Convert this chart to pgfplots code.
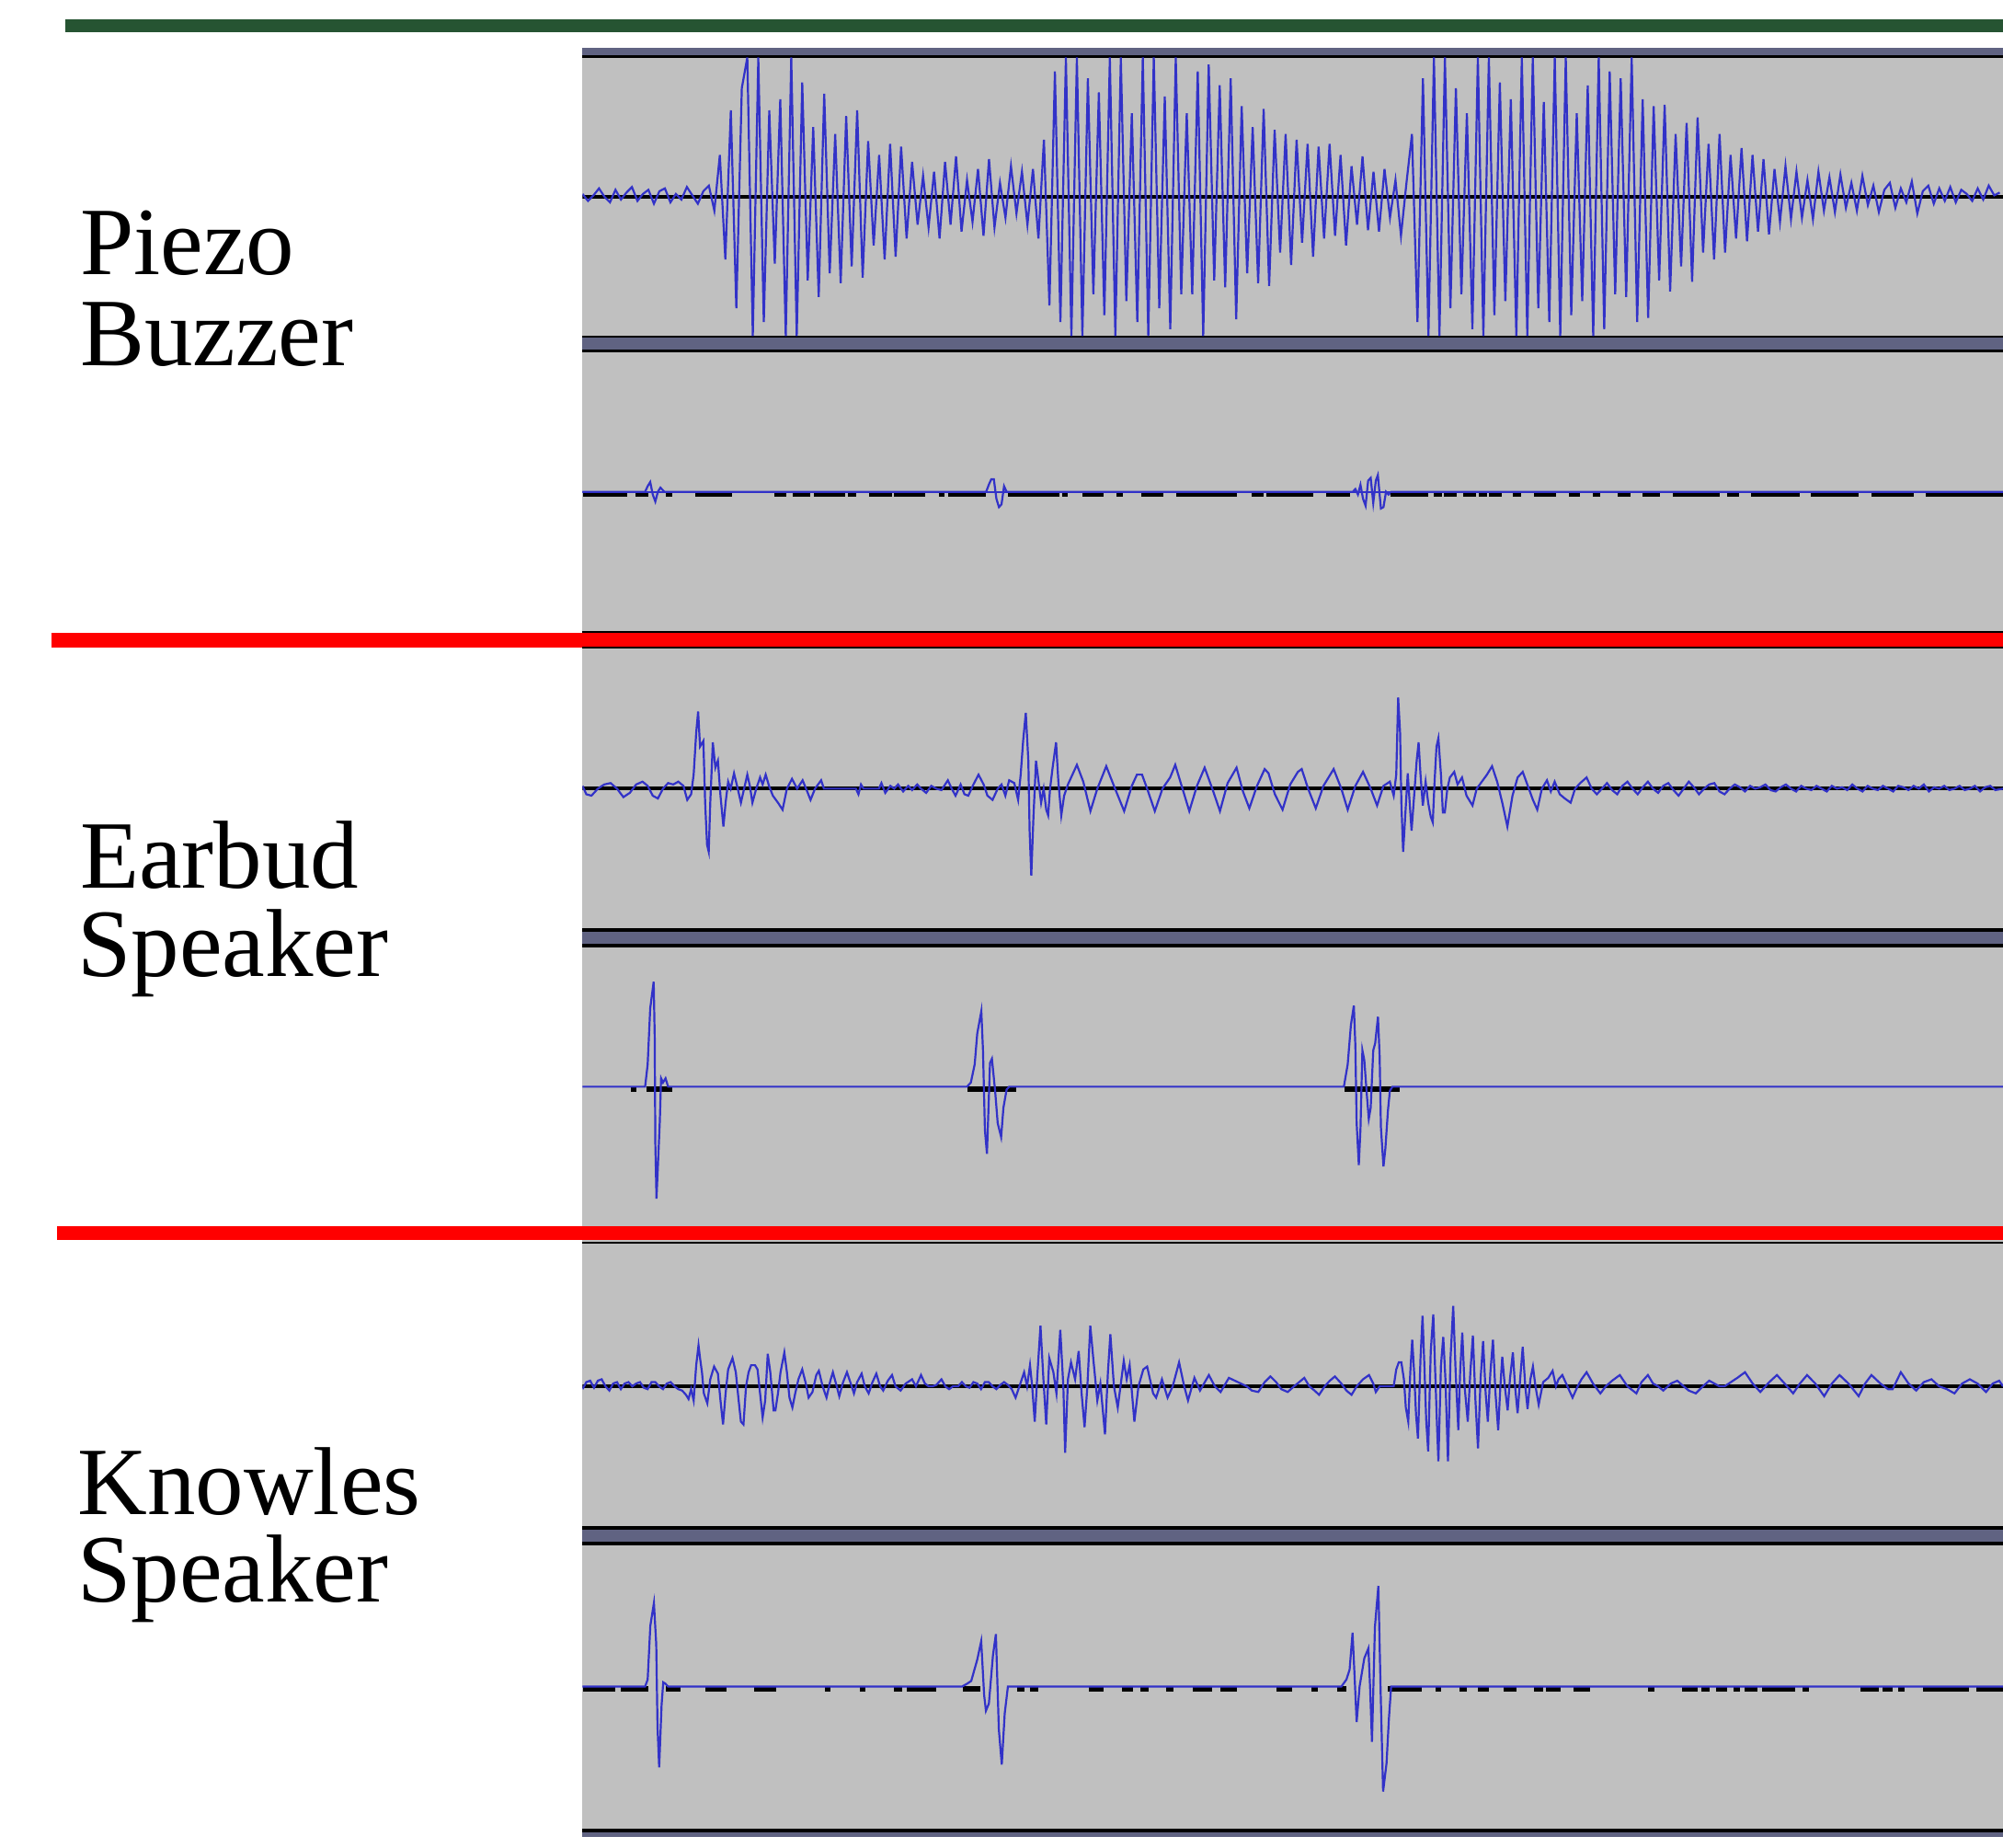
\documentclass[border=0pt]{standalone}
\usepackage{fontspec}
\setmainfont{Liberation Serif}
\usepackage{pgfplots}
\pgfplotsset{compat=1.18}
\usepackage{pgfplotstable}

\definecolor{trackgray}{RGB}{192,192,192}
\definecolor{slate}{RGB}{96,99,130}
\definecolor{wave}{RGB}{50,50,200}
\definecolor{topgreen}{RGB}{38,84,50}

\pgfplotsset{
  track/.style={width=11.12cm, scale only axis, xmin=456, xmax=1568,
    ymin=-1, ymax=1, hide axis, clip=true, anchor=north west},
  wv/.style={wave, line width=0.45pt, mark=none},
  zero/.style={black, line width=0.028cm, mark=none},
  dsh/.style={black, line width=0.045cm, mark=none, unbounded coords=jump},
}

% piezo buzzer, top track: one sample every 4.3 px
\pgfplotstableread[row sep=\\]{
y\\
0.02\\-0.03\\0.01\\0.06\\0.00\\-0.04\\0.05\\-0.02\\0.03\\0.07\\
-0.03\\0.02\\0.05\\-0.05\\0.04\\0.06\\-0.04\\0.02\\-0.02\\0.07\\
0.01\\-0.05\\0.04\\0.08\\-0.10\\0.30\\-0.45\\0.62\\-0.80\\0.78\\
1.00\\-1.00\\1.00\\-0.90\\0.62\\-0.48\\0.70\\-1.00\\1.00\\-1.00\\
0.82\\-0.60\\0.50\\-0.72\\0.74\\-0.55\\0.45\\-0.62\\0.58\\-0.50\\
0.62\\-0.58\\0.40\\-0.35\\0.30\\-0.45\\0.38\\-0.43\\0.36\\-0.30\\
0.25\\-0.20\\0.15\\-0.22\\0.18\\-0.30\\0.25\\-0.20\\0.29\\-0.25\\
0.12\\-0.18\\0.20\\-0.28\\0.27\\-0.22\\0.10\\-0.15\\0.22\\-0.12\\
0.18\\-0.20\\0.20\\-0.30\\0.41\\-0.78\\0.90\\-0.90\\1.00\\-1.00\\
1.00\\-1.00\\0.85\\-0.70\\0.75\\-0.85\\1.00\\-1.00\\1.00\\-0.75\\
0.60\\-0.90\\1.00\\-1.00\\1.00\\-0.80\\0.72\\-0.95\\1.00\\-0.70\\
0.60\\-0.70\\0.90\\-1.00\\0.95\\-0.60\\0.80\\-0.65\\0.85\\-0.88\\
0.65\\-0.55\\0.50\\-0.62\\0.63\\-0.64\\0.48\\-0.40\\0.45\\-0.49\\
0.41\\-0.33\\0.38\\-0.43\\0.36\\-0.30\\0.38\\-0.28\\0.30\\-0.35\\
0.22\\-0.20\\0.29\\-0.24\\0.18\\-0.25\\0.20\\-0.15\\0.12\\-0.28\\
0.10\\0.45\\-0.90\\0.85\\-1.00\\1.00\\-1.00\\1.00\\-0.80\\0.78\\
-0.70\\0.60\\-0.95\\1.00\\-1.00\\1.00\\-0.85\\0.82\\-0.75\\0.70\\
-1.00\\1.00\\-1.00\\1.00\\-0.80\\0.68\\-0.90\\1.00\\-1.00\\1.00\\
-0.85\\0.60\\-0.75\\0.80\\-1.00\\1.00\\-0.95\\0.90\\-0.70\\0.85\\
-0.72\\1.00\\-0.90\\0.70\\-0.87\\0.65\\-0.60\\0.66\\-0.68\\0.45\\
-0.50\\0.53\\-0.61\\0.57\\-0.40\\0.38\\-0.45\\0.45\\-0.40\\0.30\\
-0.30\\0.35\\-0.32\\0.30\\-0.25\\0.27\\-0.27\\0.20\\-0.18\\0.22\\
-0.16\\0.18\\-0.15\\0.12\\-0.16\\0.18\\-0.10\\0.14\\-0.11\\0.16\\
-0.08\\0.10\\-0.10\\0.15\\-0.06\\0.08\\-0.11\\0.05\\0.10\\-0.08\\
0.06\\-0.04\\0.11\\-0.12\\0.04\\0.08\\-0.05\\0.06\\-0.03\\0.07\\
-0.04\\0.05\\0.02\\-0.03\\0.06\\-0.02\\0.08\\0.01\\0.03\\
}\piezotop

\begin{document}
\begin{tikzpicture}
\begin{axis}[width=15.68cm, height=14.456cm, scale only axis,
  xmin=0, xmax=1568, ymin=0, ymax=1445.6, y dir=reverse,
  hide axis, clip=false]
\coordinate (BB1) at (rel axis cs:0,0);
\coordinate (BB2) at (rel axis cs:1,1);
\addplot[topgreen, line width=0.105cm] coordinates {(51.4,20) (1568,20)};
\addplot[fill=trackgray, draw=none] coordinates {(456,37.2) (1568,37.2) (1568,1438) (456,1438)};
\addplot[slate, line width=0.063cm] coordinates {(456,40.3) (1568,40.3)};
\addplot[black, line width=0.02cm] coordinates {(456,44.2) (1568,44.2)};
% between the two piezo tracks
\addplot[black, line width=0.018cm] coordinates {(456,263.6) (1568,263.6)};
\addplot[slate, line width=0.091cm] coordinates {(456,269) (1568,269)};
\addplot[black, line width=0.02cm] coordinates {(456,274.8) (1568,274.8)};
% first red rule
\addplot[black, line width=0.015cm] coordinates {(456,494.6) (1568,494.6)};
\addplot[red, line width=0.112cm] coordinates {(40,500.9) (1568,500.9)};
\addplot[black, line width=0.012cm] coordinates {(456,507) (1568,507)};
% between the earbud tracks
\addplot[black, line width=0.023cm] coordinates {(456,727.8) (1568,727.8)};
\addplot[slate, line width=0.099cm] coordinates {(456,734) (1568,734)};
\addplot[black, line width=0.023cm] coordinates {(456,740) (1568,740)};
% second red rule
\addplot[red, line width=0.113cm] coordinates {(44.8,965.1) (1568,965.1)};
\addplot[black, line width=0.016cm] coordinates {(456,972.8) (1568,972.8)};
% between the knowles tracks
\addplot[black, line width=0.023cm] coordinates {(456,1195.8) (1568,1195.8)};
\addplot[slate, line width=0.099cm] coordinates {(456,1202) (1568,1202)};
\addplot[black, line width=0.023cm] coordinates {(456,1208) (1568,1208)};
% bottom edge
\addplot[black, line width=0.034cm] coordinates {(456,1432.7) (1568,1432.7)};
\addplot[slate, line width=0.036cm] coordinates {(456,1436.2) (1568,1436.2)};

\coordinate (T1) at (axis cs:456,45);
\coordinate (T2) at (axis cs:456,275.8);
\coordinate (T3) at (axis cs:456,507.5);
\coordinate (T4) at (axis cs:456,741);
\coordinate (T5) at (axis cs:456,974.5);
\coordinate (T6) at (axis cs:456,1209);

\tikzset{lab/.style={anchor=base west, inner sep=0pt, font=\fontsize{21.5}{22}\selectfont}}
\node[lab] at (axis cs:62,215) {Piezo};
\node[lab] at (axis cs:62,286) {Buzzer};
\node[lab] at (axis cs:62,695) {Earbud};
\node[lab] at (axis cs:60,764) {Speaker};
\node[lab] at (axis cs:60,1185) {Knowles};
\node[lab] at (axis cs:60,1254) {Speaker};
\end{axis}

% Piezo, top
\begin{axis}[track, at={(T1)}, height=2.18cm]
\addplot[zero] coordinates {(456,0) (1568,0)};
\addplot[wv] table[x expr=456+4.3*\coordindex, y=y] {\piezotop};
\end{axis}

% Piezo, bottom
\begin{axis}[track, at={(T2)}, height=2.182cm]
\addplot[wv] coordinates {(456,0) (505,0) (507,0.04) (509,0.07) (511,-0.02) (513,-0.07) (515,0.0) (517,0.03) (520,0.0)
 (772,0) (774,0.05) (776,0.09) (778,0.09) (780,-0.05) (782,-0.11) (784,-0.09) (786,0.04) (788,0.0)
 (1059,0) (1061,0.02) (1063,-0.02) (1065,0.05) (1067,-0.05) (1069,-0.1) (1071,0.08) (1073,0.1) (1075,-0.08)
 (1077,0.08) (1078.6,0.12) (1081,-0.12) (1083,-0.11) (1085,0.0) (1087,-0.02) (1089,0.0) (1568,0)};
\addplot[dsh] coordinates {
 (456.3,-0.015) (490.8,-0.015) (490.8,nan) (497.7,-0.015) (507.8,-0.015) (507.8,nan)
 (521.5,-0.015) (526.1,-0.015) (526.1,nan) (544.5,-0.015) (573,-0.015) (573,nan)
 (606.5,-0.015) (615.7,-0.015) (615.7,nan) (620.3,-0.015) (634,-0.015) (634,nan)
 (637.3,-0.015) (661.6,-0.015) (661.6,nan) (663.9,-0.015) (669.9,-0.015) (669.9,nan)
 (680,-0.015) (698.3,-0.015) (698.3,nan) (699.7,-0.015) (724.5,-0.015) (724.5,nan)
 (735,-0.015) (739.7,-0.015) (739.7,nan) (742,-0.015) (771.8,-0.015) (771.8,nan)
 (789.3,-0.015) (829.2,-0.015) (829.2,nan) (831.5,-0.015) (836.1,-0.015) (836.1,nan)
 (847.6,-0.015) (863.6,-0.015) (863.6,nan) (874.2,-0.015) (878.8,-0.015) (878.8,nan)
 (893.5,-0.015) (911,-0.015) (911,nan) (921,-0.015) (968.4,-0.015) (968.4,nan)
 (979.8,-0.015) (989,-0.015) (989,nan) (991.3,-0.015) (1028,-0.015) (1028,nan)
 (1038,-0.015) (1056.5,-0.015) (1056.5,nan) (1088.6,-0.015) (1118.3,-0.015) (1118.3,nan)
 (1122.3,-0.015) (1129,-0.015) (1129,nan) (1130.4,-0.015) (1140.5,-0.015) (1140.5,nan)
 (1145.7,-0.015) (1155.8,-0.015) (1155.8,nan) (1157.8,-0.015) (1164.1,-0.015) (1164.1,nan)
 (1165.6,-0.015) (1175.7,-0.015) (1175.7,nan) (1184.6,-0.015) (1191,-0.015) (1191,nan)
 (1200.5,-0.015) (1217.8,-0.015) (1217.8,nan) (1227.9,-0.015) (1237,-0.015) (1237,nan)
 (1247.2,-0.015) (1253,-0.015) (1253,nan) (1266.5,-0.015) (1276.6,-0.015) (1276.6,nan)
 (1286,-0.015) (1299.6,-0.015) (1299.6,nan) (1309.2,-0.015) (1346,-0.015) (1346,nan)
 (1351.8,-0.015) (1361.6,-0.015) (1361.6,nan) (1371,-0.015) (1408.6,-0.015) (1408.6,nan)
 (1417.8,-0.015) (1454.8,-0.015) (1454.8,nan) (1464.8,-0.015) (1498,-0.015) (1498,nan)
 (1507.2,-0.015) (1568,-0.015)};
\addplot[wv] coordinates {(456,0) (1568,0)};
\end{axis}

% Earbud, top
\begin{axis}[track, at={(T3)}, height=2.195cm]
\addplot[zero] coordinates {(456,0) (1568,0)};
\addplot[wv] coordinates {
 (456,0.02) (459,-0.04) (463,-0.05) (468,0.0) (473,0.03) (478,0.04) (483,0.0) (488,-0.06) (493,-0.03) (498,0.03)
 (503,0.05) (507,0.02) (511,-0.05) (515,-0.07) (519,0.0) (523,0.04) (527,0.03) (531,0.05) (535,0.02) (538,-0.08) (541,-0.04)
 (543,0.1) (545,0.4) (546.5,0.55) (548,0.3) (550.6,0.34) (552,-0.1) (553.5,-0.4) (554.8,-0.45) (556,-0.1) (558,0.33)
 (560,0.15) (562,0.2) (564,-0.05) (566.3,-0.27) (568,-0.1) (570,0.05) (572,0.0) (574.6,0.11) (577,0.02) (580,-0.1)
 (582.5,0.0) (585,0.1) (587,0.02) (589,-0.1) (592,0.0) (595,0.08) (597,0.03) (599.4,0.1) (602,0.02) (605,-0.05)
 (609,-0.1) (612.6,-0.15) (616,0.0) (620,0.07) (624,0.0) (628.3,0.06) (631,0.0) (634.5,-0.08) (638,0.0) (642.8,0.06)
 (645,0.0) (655,0.0) (670,0.0) (672,-0.04) (674,0.03) (676,0.0) (688,0.0) (690,0.04) (693,-0.03) (697,0.02) (700,0.0)
 (703,0.03) (707,-0.02) (711,0.02) (714,-0.01) (718,0.03) (721,0.0) (725,-0.03) (729,0.02) (733,0.0) (737,-0.01)
 (742,0.06) (745,0.0) (748,-0.05) (752,0.03) (755,-0.04) (758,-0.05) (762,0.03) (766,0.1) (770,0.03) (773,-0.05)
 (777,-0.08) (781,0.0) (784,0.03) (787,-0.05) (790,0.06) (794,0.04) (797,-0.08)
 (799,0.1) (801,0.35) (803,0.54) (805,0.2) (806,-0.3) (807.3,-0.62) (809,-0.2) (811,0.2) (813,0.05) (815,-0.1)
 (817,0.0) (819,-0.15) (820.5,-0.19) (822,0.0) (824,0.15) (826.7,0.33) (828.5,0.05) (830.8,-0.19) (833,-0.05)
 (836,0.03) (839,0.09) (843,0.17) (848,0.05) (853.6,-0.16) (859,0.0) (866,0.16) (872,0.02) (880,-0.16) (886,0.02)
 (890,0.1) (894,0.1) (898,0.0) (904,-0.16) (910,0.0) (916,0.08) (920,0.17) (925,0.02) (931,-0.16) (937,0.02)
 (943,0.15) (949,0.0) (955,-0.16) (961,0.04) (968,0.15) (973,-0.02) (978,-0.14) (984,0.02) (990,0.14) (993,0.11)
 (998,-0.04) (1004,-0.15) (1010,0.03) (1016,0.12) (1019,0.14) (1024,0.0) (1030,-0.14) (1036,0.02) (1044,0.14)
 (1050,0.0) (1055,-0.15) (1061,0.02) (1067,0.12) (1073,0.0) (1078,-0.12) (1083,0.02) (1088,0.05) (1091,-0.05)
 (1093,0.1) (1094.5,0.65) (1096,0.4) (1097,-0.1) (1098.4,-0.45) (1100,-0.2) (1102,0.11) (1103.5,-0.1) (1105,-0.3)
 (1107,-0.05) (1109,0.2) (1110.5,0.33) (1112,0.1) (1113.8,-0.12) (1116,0.05) (1118,-0.1) (1120,-0.2) (1121.6,-0.24)
 (1123,0.05) (1124.5,0.3) (1126,0.36) (1128,0.1) (1129.5,-0.17) (1131,-0.17) (1133,0.0) (1135,0.08) (1138.4,0.12)
 (1141,0.03) (1144.5,0.08) (1148,-0.05) (1152.7,-0.12) (1156,0.0) (1160,0.05) (1164,0.1) (1168,0.16) (1172,0.05)
 (1176,-0.1) (1180,-0.27) (1184,-0.05) (1188,0.08) (1192,0.12) (1196,0.02) (1200,-0.08) (1203.4,-0.15) (1207,0.0)
 (1211,0.06) (1214,-0.02) (1217,0.05) (1221,-0.04) (1225,-0.07) (1229.5,-0.1) (1233,0.0) (1237,0.04) (1242,0.08)
 (1246,0.0) (1250,-0.04) (1254,0.0) (1258,0.04) (1262,-0.01) (1266,-0.04) (1270,0.02) (1274,0.05) (1278,0.0)
 (1282,-0.04) (1286,0.01) (1290,0.05) (1294,0.0) (1298,-0.03) (1302,0.02) (1306,0.04) (1310,-0.01) (1314,-0.05)
 (1318,0.0) (1322,0.05) (1326,0.01) (1330,-0.04) (1334,0.0) (1338,0.03) (1342,0.04) (1346,-0.02) (1350,-0.04)
 (1354,0.0) (1358,0.03) (1362,0.01) (1366,-0.02) (1370,0.02) (1374,0.0) (1378,0.01) (1382,0.03) (1386,-0.01)
 (1390,-0.02) (1394,0.01) (1398,0.03) (1402,0.0) (1406,-0.02) (1410,0.02) (1414,0.0) (1418,-0.01) (1422,0.02)
 (1426,0.0) (1430,-0.02) (1434,0.02) (1438,0.0) (1442,0.01) (1446,-0.01) (1450,0.03) (1454,0.0) (1458,-0.02)
 (1462,0.02) (1466,0.0) (1470,-0.01) (1474,0.02) (1478,0.0) (1482,-0.02) (1486,0.02) (1490,0.01) (1494,-0.01)
 (1498,0.02) (1502,0.0) (1506,0.03) (1510,-0.02) (1514,0.01) (1518,0.0) (1522,0.02) (1526,-0.01) (1530,0.0)
 (1534,0.02) (1538,-0.01) (1542,0.0) (1546,0.02) (1550,-0.02) (1554,0.01) (1558,0.02) (1562,-0.01) (1568,0.0)};
\end{axis}

% Earbud, bottom
\begin{axis}[track, at={(T4)}, height=2.19cm]
\addplot[dsh] coordinates {
 (494,-0.015) (498,-0.015) (498,nan) (506.4,-0.015) (526.2,-0.015) (526.2,nan)
 (757.7,-0.015) (795.7,-0.015) (795.7,nan) (1052.7,-0.015) (1095.5,-0.015)};
\addplot[wv] coordinates {(456,0) (505,0) (507,0.16) (509,0.56) (511.7,0.75) (512.5,0.36) (513,-0.41) (513.9,-0.8)
 (515,-0.57) (516.5,-0.25) (517.5,0.06) (519,0.03) (521,0.06) (523,0.0)
 (757,0) (760,0.03) (763,0.16) (765,0.38) (768.2,0.54) (769.5,0.26) (771,-0.31) (772.6,-0.48) (774,-0.1) (775,0.17)
 (776.5,0.2) (779,-0.03) (781,-0.26) (783.7,-0.36) (785.5,-0.15) (788,-0.02) (790,0.0)
 (1052,0) (1055,0.16) (1057.5,0.44) (1059.8,0.58) (1061,0.29) (1062,-0.26) (1063.7,-0.56) (1065,-0.3) (1066.5,0.26)
 (1068,0.19) (1070,-0.06) (1071.5,-0.23) (1073,-0.15) (1075,0.26) (1076.5,0.31) (1078.7,0.5) (1080,0.22) (1081,-0.29)
 (1083,-0.57) (1084.5,-0.44) (1086.5,-0.17) (1088,-0.03) (1090,0.0) (1568,0)};
\end{axis}

% Knowles, top
\begin{axis}[track, at={(T5)}, height=2.21cm]
\addplot[zero] coordinates {(456,0) (1568,0)};
\addplot[wv] coordinates {
 (456,-0.02) (459,0.03) (462,0.04) (465,-0.01) (468,0.04) (471,0.05) (474,0.0) (477,-0.03) (480,0.02) (483,0.03)
 (486,-0.02) (489,0.02) (492,0.03) (495,0.0) (498,0.02) (501,0.03) (504,-0.01) (507,-0.02) (510,0.03) (513,0.03)
 (516,0.0) (519,-0.02) (522,0.02) (525,0.03) (528,0.0) (531,-0.02) (534,-0.03) (537,-0.06) (539,-0.09) (541,-0.02)
 (543,-0.1) (545,0.15) (546.8,0.29) (548,0.2) (549.5,0.1) (551,-0.05) (553.7,-0.12) (556,0.05) (559,0.14) (562,0.09)
 (564,-0.1) (566,-0.27) (568,-0.05) (570,0.12) (573.4,0.2) (576,0.1) (578,-0.08) (580,-0.25) (582,-0.27) (584,0.0)
 (586,0.1) (588,0.15) (591,0.15) (593,0.12) (595,-0.05) (597,-0.22) (599,-0.1) (601,0.23) (603,0.1) (605.6,-0.17)
 (607,-0.17) (609,-0.05) (611,0.1) (614,0.24) (616,0.1) (618,-0.08) (620.3,-0.15) (622.5,-0.05) (625,0.05) (628,0.12)
 (630.8,0.02) (633,-0.08) (636,-0.04) (639,0.08) (641,0.11) (644,0.0) (647,-0.08) (650,0.04) (652,0.1) (655,0.0)
 (657,-0.07) (660,0.03) (663,0.1) (666,0.02) (668.5,-0.05) (671,0.03) (674.5,0.09) (677,0.0) (680,-0.05) (683,0.03)
 (686,0.09) (689,0.0) (691.4,-0.03) (695,0.04) (698.3,0.08) (701,0.0) (705,-0.03) (709,0.02) (714,0.05) (717,0.0)
 (721,0.08) (724,0.02) (727,0.0) (730,0.0) (733,0.01) (737,0.05) (740,0.0) (743,-0.02) (746,0.0) (750,0.0) (753,0.03)
 (756,0.0) (759,-0.01) (762,0.03) (765,0.02) (768,-0.02) (771,0.03) (774,0.03) (777,0.0) (780,-0.02) (783,0.01)
 (786,0.03) (789,0.01) (792,-0.02) (795,-0.08) (798,0.0)
 (801.7,0.1) (804,0.0) (806.3,0.15) (808,0.0) (810,-0.25) (812.2,0.1) (814.5,0.43) (816.8,0.05) (819,-0.27)
 (821.4,0.2) (824.6,0.1) (827,-0.05) (830,0.4) (832.4,0.0) (833.8,-0.47) (836,0.05) (838.4,0.17) (841.6,0.05)
 (844.4,0.25) (846.7,-0.05) (849,-0.29) (851.2,0.0) (853.5,0.43) (855.8,0.2) (859,-0.1) (861.4,0.02) (865,-0.34)
 (867.3,0.1) (869.2,0.37) (872,0.0) (875,-0.15) (879.7,0.18) (882,0.05) (884.3,0.15) (888,-0.25) (891.2,0.0)
 (895,0.12) (898,0.14) (902.7,-0.05) (905,-0.08) (909.6,0.05) (914,-0.08) (918,0.0) (923,0.17) (927,0.0) (930,-0.1)
 (935,0.06) (939.4,-0.03) (946.3,0.08) (951,0.0) (955.5,-0.04) (962,0.06) (969,0.03) (976,0.0)
 (980,-0.03) (985,-0.04) (990,0.03) (994.5,0.07) (999,0.03) (1003,-0.02) (1008,-0.04) (1013,0.0) (1017,0.03)
 (1021,0.06) (1025,0.0) (1029,-0.03) (1032.6,-0.06) (1037,0.0) (1041,0.04) (1045,0.07) (1050,0.02) (1054,-0.03)
 (1058,-0.06) (1062,0.0) (1067,0.05) (1071.7,0.08) (1075,0.02) (1077,-0.04) (1080,0.0) (1090,0.0)
 (1091,0.0) (1093,0.12) (1095,0.17) (1097,0.17) (1099,0.05) (1100.5,-0.15) (1102.4,-0.25) (1104,0.1) (1105.5,0.33)
 (1107,0.1) (1108.5,-0.2) (1110,-0.37) (1112,0.2) (1113.6,0.5) (1115,0.15) (1116.5,-0.25) (1118,-0.46) (1120,0.25)
 (1122,0.51) (1123.5,0.1) (1125,-0.3) (1126,-0.53) (1128,0.15) (1129.8,0.35) (1131.5,0.05) (1133.5,-0.53)
 (1135.5,0.2) (1137.6,0.57) (1139.5,0.1) (1141.6,-0.31) (1143,0.1) (1144.7,0.38) (1146.5,0.0) (1149,-0.25)
 (1151,0.1) (1153,0.36) (1155,-0.1) (1157,-0.44) (1159,0.05) (1161,0.32) (1163,-0.05) (1164.7,-0.25) (1166.7,0.1)
 (1168.7,0.33) (1170.7,-0.05) (1172.8,-0.31) (1174.5,0.0) (1176,0.21) (1178,0.0) (1180.2,-0.17) (1182,0.05)
 (1184.3,0.24) (1186,0.0) (1188,-0.19) (1190,0.05) (1192,0.28) (1194,0.0) (1195.8,-0.16) (1198,0.05) (1200,0.14)
 (1202,0.0) (1204.5,-0.13) (1208,0.03) (1212,0.06) (1215.4,0.11) (1218,0.0) (1220,0.05) (1223,0.08) (1227,0.0)
 (1231,-0.08) (1235,0.0) (1238,0.05) (1242,0.1) (1247,0.02) (1252.8,-0.05) (1257,0.0) (1262,0.04) (1268,0.08)
 (1274,0.0) (1281,-0.05) (1285,0.03) (1290,0.08) (1294,0.02) (1298,0.0) (1302,-0.03) (1308,0.02) (1313,0.04)
 (1318,0.0) (1322,-0.03) (1327.5,-0.05) (1333,0.0) (1338,0.04) (1342,0.02) (1346,0.0) (1350,0.0) (1355,0.03)
 (1360,0.06) (1366,0.1) (1372,0.02) (1378,-0.04) (1385,0.03) (1391,0.08) (1397,0.02) (1403.7,-0.05) (1409,0.02)
 (1414.6,0.08) (1421,0.02) (1428,-0.07) (1434,0.02) (1440,0.08) (1447,0.02) (1455,-0.07) (1460,0.02) (1465,0.08)
 (1472,0.02) (1478,-0.02) (1481.6,-0.02) (1488,0.1) (1494,0.02) (1500,-0.03) (1506,0.03) (1512,0.05) (1518,0.0)
 (1524,-0.02) (1530,-0.05) (1536,0.02) (1542,0.05) (1548,0.02) (1554.7,-0.04) (1560,0.02) (1565,0.04) (1568,0.0)};
\end{axis}

% Knowles, bottom
\begin{axis}[track, at={(T6)}, height=2.22cm]
\addplot[dsh] coordinates {
 (456.3,-0.015) (481.6,-0.015) (481.6,nan) (486.2,-0.015) (507.8,-0.015) (507.8,nan)
 (521.5,-0.015) (533,-0.015) (533,nan) (552.3,-0.015) (568.8,-0.015) (568.8,nan)
 (590.4,-0.015) (607.9,-0.015) (607.9,nan) (645.5,-0.015) (650,-0.015) (650,nan)
 (673,-0.015) (677.7,-0.015) (677.7,nan) (699.7,-0.015) (706,-0.015) (706,nan)
 (709.8,-0.015) (732.8,-0.015) (732.8,nan) (753.4,-0.015) (767.2,-0.015) (767.2,nan)
 (796.1,-0.015) (801.7,-0.015) (801.7,nan) (806.3,-0.015) (813.1,-0.015) (813.1,nan)
 (852.2,-0.015) (863.6,-0.015) (863.6,nan) (878.3,-0.015) (886.6,-0.015) (886.6,nan)
 (892.6,-0.015) (899.5,-0.015) (899.5,nan) (913.2,-0.015) (918.8,-0.015) (918.8,nan)
 (933.4,-0.015) (948.6,-0.015) (948.6,nan) (955.5,-0.015) (968.4,-0.015) (968.4,nan)
 (999.1,-0.015) (1011.5,-0.015) (1011.5,nan) (1026.7,-0.015) (1031.3,-0.015) (1031.3,nan)
 (1046.4,-0.015) (1054.2,-0.015) (1054.2,nan) (1086.4,-0.015) (1112.7,-0.015) (1112.7,nan)
 (1123.6,-0.015) (1128.3,-0.015) (1128.3,nan) (1142.3,-0.015) (1148.5,-0.015) (1148.5,nan)
 (1157.2,-0.015) (1165.6,-0.015) (1165.6,nan) (1177.4,-0.015) (1187.4,-0.015) (1187.4,nan)
 (1200.8,-0.015) (1208.3,-0.015) (1208.3,nan) (1210,-0.015) (1221.6,-0.015) (1221.6,nan)
 (1232,-0.015) (1245,-0.015) (1245,nan) (1290,-0.015) (1295.4,-0.015) (1295.4,nan)
 (1317,-0.015) (1329,-0.015) (1329,nan) (1332,-0.015) (1338,-0.015) (1338,nan)
 (1343,-0.015) (1352,-0.015) (1352,nan) (1357,-0.015) (1362,-0.015) (1362,nan)
 (1366,-0.015) (1375.7,-0.015) (1375.7,nan) (1379,-0.015) (1405,-0.015) (1405,nan)
 (1411,-0.015) (1416,-0.015) (1416,nan) (1456.7,-0.015) (1470.7,-0.015) (1470.7,nan)
 (1473.8,-0.015) (1481.6,-0.015) (1481.6,nan) (1486,-0.015) (1491,-0.015) (1491,nan)
 (1505,-0.015) (1541,-0.015) (1541,nan) (1547,-0.015) (1568,-0.015)};
\addplot[wv] coordinates {(456,0) (505,0) (507,0.05) (509.1,0.43) (511.9,0.59) (513.7,0.3) (514.7,-0.28) (516,-0.57)
 (517.9,-0.13) (519.2,0.03) (521,0.02) (523,0)
 (753,0) (757,0.02) (760.3,0.04) (765,0.19) (768.1,0.32) (770.4,-0.06) (771.8,-0.17) (774.1,-0.12) (777.3,0.22)
 (779.6,0.37) (781.9,-0.3) (784.2,-0.55) (786.5,-0.19) (789,0)
 (1050,0) (1054,0.05) (1056.5,0.12) (1058.8,0.38) (1060.5,0.05) (1062,-0.25) (1064.3,0.0) (1068,0.2) (1071.2,0.27)
 (1072.5,0.0) (1074,-0.39) (1076.3,0.42) (1079,0.71) (1080.8,-0.04) (1082.7,-0.74) (1085.4,-0.54) (1087.3,-0.22)
 (1089,0) (1568,0)};
\end{axis}
\pgfresetboundingbox
\path (BB1) rectangle (BB2);
\end{tikzpicture}
\end{document}
